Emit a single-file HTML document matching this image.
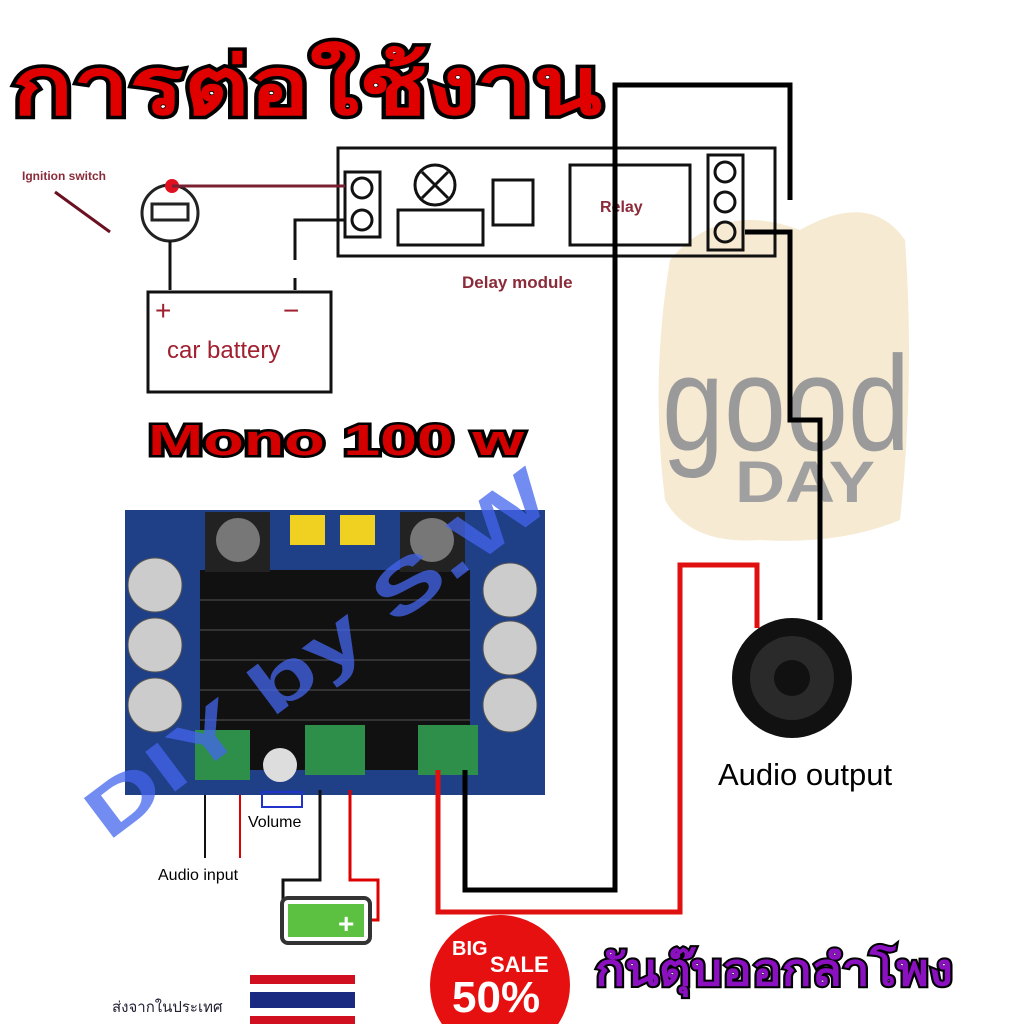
<!DOCTYPE html>
<html><head><meta charset="utf-8"><style>
html,body{margin:0;padding:0;background:#fff;width:1024px;height:1024px;overflow:hidden}
svg{display:block}
text{font-family:"Liberation Sans","Noto Sans CJK SC",sans-serif}
</style></head><body>
<svg width="1024" height="1024" viewBox="0 0 1024 1024" xmlns="http://www.w3.org/2000/svg">
<rect width="1024" height="1024" fill="#fff"/>
<!-- good day watermark -->
<path d="M670 260 Q720 200 800 230 Q870 190 905 240 Q915 380 900 520 Q840 545 760 540 Q690 545 665 500 Q650 380 670 260Z" fill="#f6ead2"/>
<text x="662" y="450" font-size="135" fill="#9a9a9a" textLength="248" lengthAdjust="spacingAndGlyphs">good</text>
<text x="735" y="502" font-size="58" font-weight="bold" fill="#a0a0a0" textLength="140" lengthAdjust="spacingAndGlyphs">DAY</text>

<!-- title -->
<text x="12" y="114" font-size="80" font-weight="bold" fill="#e00000" stroke="#000" stroke-width="7" paint-order="stroke" textLength="590" lengthAdjust="spacingAndGlyphs">การต่อใช้งาน</text>

<!-- delay module -->
<rect x="338" y="148" width="437" height="108" fill="none" stroke="#111" stroke-width="3"/>
<rect x="345" y="172" width="35" height="65" fill="none" stroke="#111" stroke-width="3"/>
<circle cx="362" cy="188" r="10" fill="none" stroke="#111" stroke-width="3"/>
<circle cx="362" cy="220" r="10" fill="none" stroke="#111" stroke-width="3"/>
<circle cx="435" cy="185" r="20" fill="none" stroke="#111" stroke-width="3"/>
<path d="M422 172 L448 198 M448 172 L422 198" stroke="#111" stroke-width="3"/>
<rect x="398" y="210" width="85" height="35" fill="none" stroke="#111" stroke-width="3"/>
<rect x="493" y="180" width="40" height="45" fill="none" stroke="#111" stroke-width="3"/>
<rect x="570" y="165" width="120" height="80" fill="none" stroke="#111" stroke-width="3"/>
<text x="600" y="212" font-size="16" font-weight="bold" fill="#8b2b3a">Relay</text>
<rect x="708" y="155" width="35" height="95" fill="none" stroke="#111" stroke-width="3"/>
<circle cx="725" cy="172" r="10" fill="none" stroke="#111" stroke-width="3"/>
<circle cx="725" cy="202" r="10" fill="none" stroke="#111" stroke-width="3"/>
<circle cx="725" cy="232" r="10" fill="none" stroke="#111" stroke-width="3"/>
<text x="462" y="288" font-size="17" font-weight="bold" fill="#8b2b3a">Delay module</text>

<!-- ignition + battery -->
<text x="22" y="180" font-size="12" font-weight="bold" fill="#8b2b3a">Ignition switch</text>
<line x1="55" y1="192" x2="110" y2="232" stroke="#6a1020" stroke-width="3"/>
<circle cx="170" cy="213" r="28" fill="#fff" stroke="#222" stroke-width="3"/>
<rect x="152" y="204" width="36" height="16" fill="none" stroke="#222" stroke-width="3"/>
<circle cx="172" cy="186" r="7" fill="#e01020"/>
<line x1="172" y1="186" x2="345" y2="186" stroke="#7a2030" stroke-width="3"/>
<path d="M345 220 H295 V260 M295 278 V290" fill="none" stroke="#111" stroke-width="3"/>
<line x1="170" y1="241" x2="170" y2="290" stroke="#111" stroke-width="3"/>
<rect x="148" y="292" width="183" height="100" fill="none" stroke="#111" stroke-width="3"/>
<text x="155" y="320" font-size="28" fill="#a02030">+</text>
<text x="283" y="320" font-size="28" fill="#a02030">−</text>
<text x="167" y="358" font-size="24" fill="#a02030">car battery</text>

<text x="148" y="455" font-size="44" font-weight="bold" fill="#d40000" stroke="#000" stroke-width="5" paint-order="stroke" textLength="376" lengthAdjust="spacingAndGlyphs">Mono 100 w</text>

<!-- amplifier board -->
<rect x="125" y="510" width="420" height="285" fill="#1f3f86"/>
<rect x="200" y="570" width="270" height="200" fill="#111"/>
<g stroke="#333" stroke-width="2"><line x1="200" y1="600" x2="470" y2="600"/><line x1="200" y1="630" x2="470" y2="630"/><line x1="200" y1="660" x2="470" y2="660"/><line x1="200" y1="690" x2="470" y2="690"/><line x1="200" y1="720" x2="470" y2="720"/></g>
<rect x="205" y="512" width="65" height="60" fill="#222"/><circle cx="238" cy="540" r="22" fill="#777"/>
<rect x="400" y="512" width="65" height="60" fill="#222"/><circle cx="432" cy="540" r="22" fill="#777"/>
<rect x="290" y="515" width="35" height="30" fill="#f0d020"/><rect x="340" y="515" width="35" height="30" fill="#f0d020"/>
<g fill="#ccc" stroke="#555"><circle cx="155" cy="585" r="27"/><circle cx="155" cy="645" r="27"/><circle cx="155" cy="705" r="27"/><circle cx="510" cy="590" r="27"/><circle cx="510" cy="648" r="27"/><circle cx="510" cy="705" r="27"/></g>
<rect x="195" y="730" width="55" height="50" fill="#2e8f4a"/><rect x="305" y="725" width="60" height="50" fill="#2e8f4a"/><rect x="418" y="725" width="60" height="50" fill="#2e8f4a"/>
<circle cx="280" cy="765" r="17" fill="#ddd"/>
<rect x="262" y="792" width="40" height="15" fill="none" stroke="#2233cc" stroke-width="2"/>
<text x="248" y="827" font-size="16">Volume</text>
<text x="158" y="880" font-size="16">Audio input</text>

<!-- wires -->
<path d="M205 795 V858" stroke="#111" stroke-width="2"/>
<path d="M240 795 V858" stroke="#d00" stroke-width="2"/>
<path d="M320 790 V880 H283 V905" fill="none" stroke="#111" stroke-width="3"/>
<path d="M350 790 V880 H378 V920 H370" fill="none" stroke="#d00" stroke-width="3"/>
<path d="M465 770 V890 H615 V85 H790 V200" fill="none" stroke="#000" stroke-width="5"/>
<path d="M745 232 H790 V420 H820 V620" fill="none" stroke="#000" stroke-width="5"/>
<path d="M438 770 V912 H680 V565 H757 V628" fill="none" stroke="#e01010" stroke-width="5"/>

<text transform="translate(108,842) rotate(-37)" font-size="72" font-weight="bold" fill="#4466ee" fill-opacity="0.75" textLength="560" lengthAdjust="spacingAndGlyphs">DIY by S.W</text>

<!-- speaker -->
<circle cx="792" cy="678" r="60" fill="#111"/><circle cx="792" cy="678" r="42" fill="#2a2a2a"/><circle cx="792" cy="678" r="18" fill="#111"/>
<text x="718" y="785" font-size="31">Audio output</text>

<!-- battery icon -->
<rect x="282" y="898" width="88" height="45" rx="6" fill="#fff" stroke="#333" stroke-width="4"/>
<rect x="288" y="904" width="76" height="33" fill="#5cc040"/>
<text x="338" y="933" font-size="28" font-weight="bold" fill="#fff">+</text>

<!-- sale -->
<circle cx="500" cy="985" r="70" fill="#e61010"/>
<text x="452" y="955" font-size="20" font-weight="bold" fill="#fff">BIG</text>
<text x="490" y="972" font-size="22" font-weight="bold" fill="#fff">SALE</text>
<text x="452" y="1012" font-size="44" font-weight="bold" fill="#fff">50%</text>

<text x="595" y="985" font-size="44" font-weight="bold" fill="#8a10c0" stroke="#000" stroke-width="4" paint-order="stroke" textLength="358" lengthAdjust="spacingAndGlyphs">กันตุ๊บออกลำโพง</text>

<!-- flag -->
<rect x="250" y="975" width="105" height="49" fill="#fff"/>
<rect x="250" y="975" width="105" height="9" fill="#d01020"/>
<rect x="250" y="992" width="105" height="16" fill="#1a2a80"/>
<rect x="250" y="1016" width="105" height="8" fill="#d01020"/>
<text x="112" y="1012" font-size="15" fill="#223">ส่งจากในประเทศ</text>
</svg>
</body></html>
